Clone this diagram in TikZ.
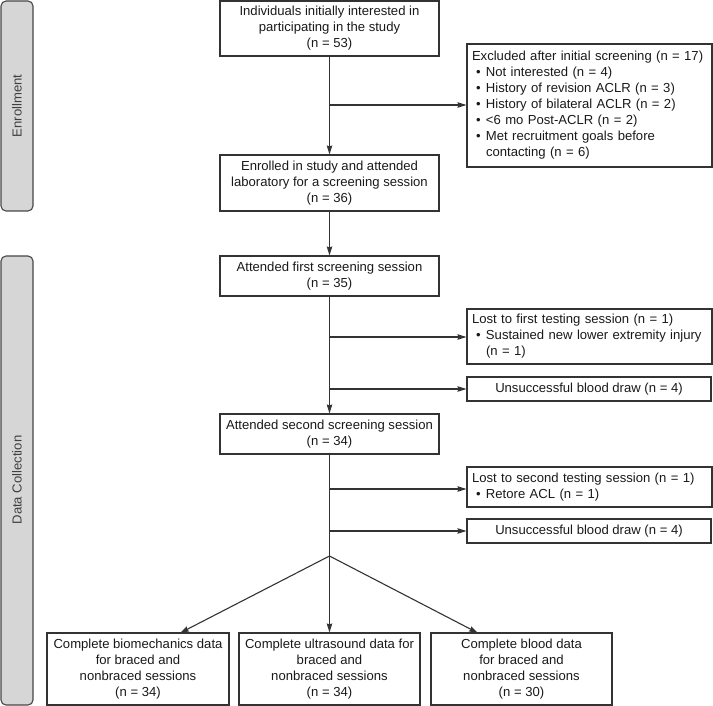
\documentclass[tikz,border=0pt]{standalone}
\usepackage{fontspec}
\setmainfont{Liberation Sans}
\usetikzlibrary{arrows.meta}
\definecolor{ln}{HTML}{333333}
\definecolor{barfill}{HTML}{D6D6D6}
\begin{document}
\begin{tikzpicture}[x=1pt,y=-1pt,
  font=\fontsize{13.1}{16}\selectfont,
  box/.style={draw=ln,line width=1.1pt,text=black!90,inner sep=0pt,align=center},
  lbox/.style={draw=ln,line width=1.1pt,text=black!90,inner sep=0pt,align=left},
  bar/.style={draw=ln!90,fill=barfill,line width=1.1pt,rounded corners=5pt},
  conn/.style={draw=ln,line width=1.1pt},
  arr/.style={conn,-{Stealth[length=9pt,width=5.5pt,inset=1pt]}}]
\useasboundingbox (0,0) rectangle (713,706);
% side bars
\draw[bar] (1,1) rectangle (33,211);
\node[rotate=90,text=black!75] (enr) at (17,106) {Enrollment};
\draw[bar] (1,256) rectangle (33,705);
\node[rotate=90,text=black!75] (dc) at (17,480) {Data Collection};
% main column
\node[box,minimum width=219pt,minimum height=55pt] (top) at (329.5,28.5)
  {Individuals initially interested in\\participating in the study\\(n = 53)};
\node[box,minimum width=219pt,minimum height=56pt] (enrolled) at (329.5,183)
  {Enrolled in study and attended\\laboratory for a screening session\\(n = 36)};
\node[box,minimum width=219pt,minimum height=40pt] (first) at (329.5,276)
  {Attended first screening session\\(n = 35)};
\node[box,minimum width=219pt,minimum height=40pt] (second) at (329.5,434)
  {Attended second screening session\\(n = 34)};
% side boxes
\node[lbox,minimum width=245pt,minimum height=123pt,text width=235pt] (excl) at (589.5,105.5)
  {Excluded after initial screening (n = 17)\\
   \hspace*{4pt}\makebox[10pt][l]{\textbullet}Not interested (n = 4)\\
   \hspace*{4pt}\makebox[10pt][l]{\textbullet}History of revision ACLR (n = 3)\\
   \hspace*{4pt}\makebox[10pt][l]{\textbullet}History of bilateral ACLR (n = 2)\\
   \hspace*{4pt}\makebox[10pt][l]{\textbullet}<6 mo Post-ACLR (n = 2)\\
   \hspace*{4pt}\makebox[10pt][l]{\textbullet}Met recruitment goals before\\
   \hspace*{14pt}contacting (n = 6)};
\node[lbox,minimum width=245pt,minimum height=55pt,text width=235pt] (lost1) at (589.5,336.5)
  {Lost to first testing session (n = 1)\\
   \hspace*{4pt}\makebox[10pt][l]{\textbullet}Sustained new lower extremity injury\\
   \hspace*{14pt}(n = 1)};
\node[box,minimum width=244pt,minimum height=24pt] (blood1) at (589,389)
  {Unsuccessful blood draw (n = 4)};
\node[lbox,minimum width=245pt,minimum height=40pt,text width=235pt] (lost2) at (589.5,487)
  {Lost to second testing session (n = 1)\\
   \hspace*{4pt}\makebox[10pt][l]{\textbullet}Retore ACL (n = 1)};
\node[box,minimum width=244pt,minimum height=24pt] (blood2) at (589,531)
  {Unsuccessful blood draw (n = 4)};
% bottom boxes
\node[box,minimum width=182pt,minimum height=72pt] (b1) at (138,669)
  {Complete biomechanics data\\for braced and\\nonbraced sessions\\(n = 34)};
\node[box,minimum width=181pt,minimum height=72pt] (b2) at (329.5,669)
  {Complete ultrasound data for\\braced and\\nonbraced sessions\\(n = 34)};
\node[box,minimum width=181pt,minimum height=72pt] (b3) at (521.5,669)
  {Complete blood data\\for braced and\\nonbraced sessions\\(n = 30)};
% junction coordinates
\coordinate (j1) at (329.5,105);
\coordinate (j2) at (329.5,337);
\coordinate (j3) at (329.5,389);
\coordinate (j4) at (329.5,489);
\coordinate (j5) at (329.5,531);
\coordinate (split) at (329.5,556);
\coordinate (t1) at (180,633);
\coordinate (t3) at (478,633);
% connectors
\draw[arr] (top.south) -- (enrolled.north);
\draw[arr] (j1) -- (excl.west |- j1);
\draw[arr] (enrolled.south) -- (first.north);
\draw[arr] (first.south) -- (second.north);
\draw[arr] (j2) -- (lost1.west |- j2);
\draw[arr] (j3) -- (blood1.west |- j3);
\draw[conn] (second.south) -- (split);
\draw[arr] (j4) -- (lost2.west |- j4);
\draw[arr] (j5) -- (blood2.west |- j5);
\draw[arr] (split) -- (t1);
\draw[arr] (split) -- (b2.north);
\draw[arr] (split) -- (t3);
\end{tikzpicture}
\end{document}
